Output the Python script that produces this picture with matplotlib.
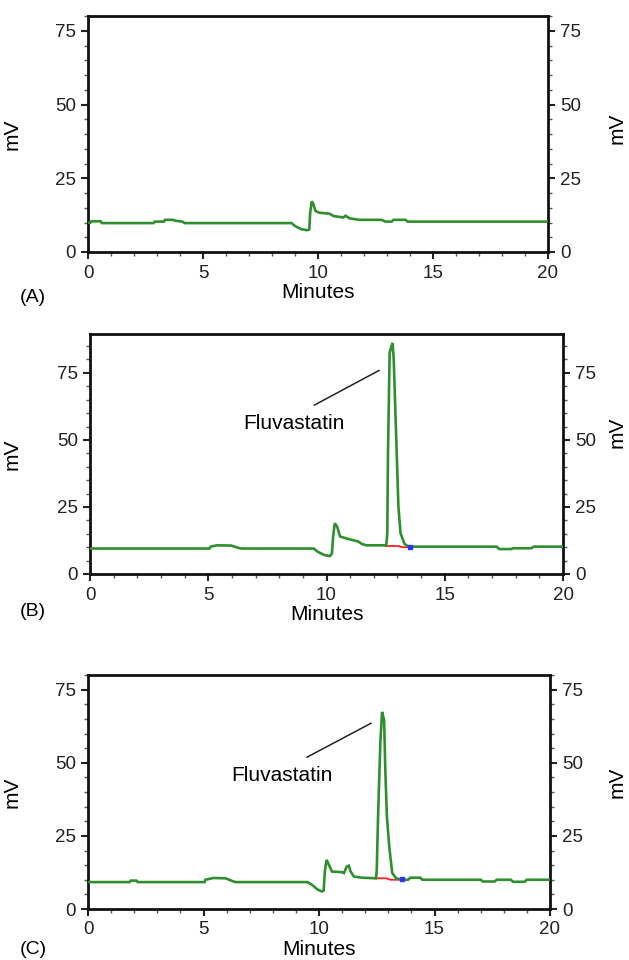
import matplotlib
matplotlib.use("Agg")
import matplotlib.pyplot as plt
from matplotlib.ticker import MultipleLocator

plt.rcParams['font.family'] = ['Liberation Sans', 'DejaVu Sans']

# ---------------- data ----------------
a_time = [0.0, 0.1, 0.15, 0.55, 0.6, 2.85, 2.9, 3.3, 3.35, 3.7, 3.8, 4.1, 4.2, 8.85, 9.0, 9.28, 9.54,
          9.62, 9.66, 9.73, 9.8, 9.89, 10.06, 10.5, 10.67, 11.1, 11.2, 11.37, 11.8, 12.76, 12.94,
          13.2, 13.29, 13.8, 13.9, 20.0]
a_mv = [9.9, 9.9, 10.4, 10.4, 9.8, 9.8, 10.3, 10.3, 10.9, 10.9, 10.6, 10.3, 9.8, 9.8, 8.8, 7.7, 7.4,
        7.6, 13.3, 17.2, 16.2, 13.9, 13.3, 13.0, 12.2, 11.7, 12.3, 11.4, 10.9, 10.9, 10.3,
        10.3, 10.9, 10.9, 10.3, 10.3]

b_time = [0.0, 5.05, 5.1, 5.37, 5.97, 6.3, 6.4, 9.46, 9.63, 9.9, 10.15, 10.23, 10.28, 10.35, 10.45,
          10.57, 10.83, 11.08, 11.34, 11.5, 11.68, 12.53, 12.57, 12.6, 12.67, 12.79, 12.84, 12.96,
          13.04, 13.13, 13.3, 13.47, 17.2, 17.3, 17.8, 17.9, 18.67, 18.75, 20.0]
b_mv = [9.5, 9.5, 10.2, 10.7, 10.6, 9.7, 9.5, 9.5, 8.3, 7.1, 6.7, 7.7, 14.0, 18.9, 17.7,
        14.0, 13.3, 12.7, 12.1, 11.2, 10.7, 10.7, 15.2, 45.0, 82.5, 86.2, 80.6, 47.6,
        25.2, 15.2, 11.2, 10.2, 10.2, 9.3, 9.3, 9.6, 9.6, 10.2, 10.2]
b_base_time = [12.5, 13.04, 13.2, 13.55]
b_base_mv = [10.45, 10.45, 10.0, 10.0]

c_time = [0.0, 1.8, 1.85, 2.1, 2.15, 5.05, 5.08, 5.43, 5.95, 6.3, 6.4, 9.5, 9.69, 9.95, 10.12, 10.2,
          10.26, 10.33, 10.43, 10.56, 11.0, 11.08, 11.2, 11.29, 11.37, 11.51, 11.86, 12.47, 12.5,
          12.56, 12.66, 12.73, 12.82, 12.87, 12.94, 13.04, 13.17, 13.34, 13.6, 13.86, 13.95,
          14.38, 14.47, 17.0, 17.1, 17.6, 17.7, 18.3, 18.4, 18.9, 19.0, 20.0]
c_mv = [9.2, 9.2, 9.7, 9.7, 9.2, 9.2, 10.0, 10.6, 10.5, 9.4, 9.2, 9.2, 8.3, 6.6, 6.0, 6.3,
        13.4, 16.8, 15.1, 12.8, 12.6, 12.3, 14.5, 14.8, 12.8, 11.1, 10.7, 10.5, 13.4,
        32.7, 57.7, 67.4, 64.5, 47.5, 31.6, 21.4, 12.3, 10.5, 10.0, 10.0, 10.7,
        10.7, 10.0, 10.0, 9.4, 9.4, 10.0, 10.0, 9.3, 9.3, 10.0, 10.0]
c_base_time = [12.42, 12.9, 13.1, 13.6]
c_base_mv = [10.5, 10.5, 10.0, 10.0]

x_ticks = [0, 5, 10, 15, 20]
y_ticks = [0, 25, 50, 75]
peak_label = "Fluvastatin"

# ---------------- layout ----------------
W, H = 629, 960
fig = plt.figure(figsize=(W / 100, H / 100), dpi=100)

def box(l, r, t, b):
    return [l / W, 1 - b / H, (r - l) / W, (b - t) / H]

panels = [
    dict(rect=box(88, 548, 16, 252), t=a_time, v=a_mv, ymax=80, label="(A)", label_y=297,
         right_label_y=128, base=None, ann=None),
    dict(rect=box(90, 563, 334, 574), t=b_time, v=b_mv, ymax=89.5, label="(B)", label_y=612,
         right_label_y=432, base=(b_base_time, b_base_mv, 13.55, 10.1),
         ann=((12.22, 75.9), (9.49, 63.0), (8.63, 56.3))),
    dict(rect=box(88, 550, 675, 909), t=c_time, v=c_mv, ymax=80, label="(C)", label_y=950,
         right_label_y=782, base=(c_base_time, c_base_mv, 13.6, 10.1),
         ann=((12.25, 63.5), (9.48, 51.9), (8.40, 45.7))),
]

green = '#2f8f2f'
for p in panels:
    ax = fig.add_axes(p['rect'])
    ax.plot(p['t'], p['v'], color=green, lw=1.9, solid_joinstyle='miter', zorder=3)
    if p['base'] is not None:
        bt, bv, dx, dy = p['base']
        ax.plot(bt, bv, color='#ff2020', lw=1.3, zorder=2)
        ax.plot([dx], [dy], marker='s', ms=2.5, color='#3030ff', zorder=4, lw=0)
    if p['ann'] is not None:
        (x2, y2), (x1, y1), (tx, ty) = p['ann']
        ax.plot([x1, x2], [y1, y2], color='#222222', lw=1.1)
        ax.text(tx, ty, peak_label, ha='center', va='center', fontsize=15)
    ax.set_xlim(0, 20)
    ax.set_ylim(0, p['ymax'])
    ax.set_xticks(x_ticks)
    ax.set_yticks(y_ticks)
    ax.xaxis.set_minor_locator(MultipleLocator(1))
    ax.yaxis.set_minor_locator(MultipleLocator(5))
    ax.tick_params(axis='both', which='major', direction='out', length=5, width=1.5,
                   labelsize=13.5, colors='#222222')
    ax.tick_params(axis='both', which='minor', direction='out', length=3, width=1.0,
                   colors='#555555')
    ax.tick_params(axis='y', which='both', left=True, right=True, labelleft=True, labelright=True)
    ax.tick_params(axis='x', which='both', top=False, bottom=True)
    ax.tick_params(axis='x', which='major', pad=4)
    for s in ax.spines.values():
        s.set_linewidth(2.0)
        s.set_color('#111111')
    ax.set_xlabel('Minutes', fontsize=15, labelpad=1)
    ax.set_ylabel('mV', fontsize=15, labelpad=10)
    ax.yaxis.set_label_coords((22 - p['rect'][0] * W) / (p['rect'][2] * W), 0.5)
    fig.text(20 / W, 1 - p['label_y'] / H, p['label'], fontsize=14, ha='left', va='center')
    fig.text(617 / W, 1 - p['right_label_y'] / H, 'mV', fontsize=15, rotation=90,
             ha='center', va='center')

fig.savefig('out.png', dpi=100)
